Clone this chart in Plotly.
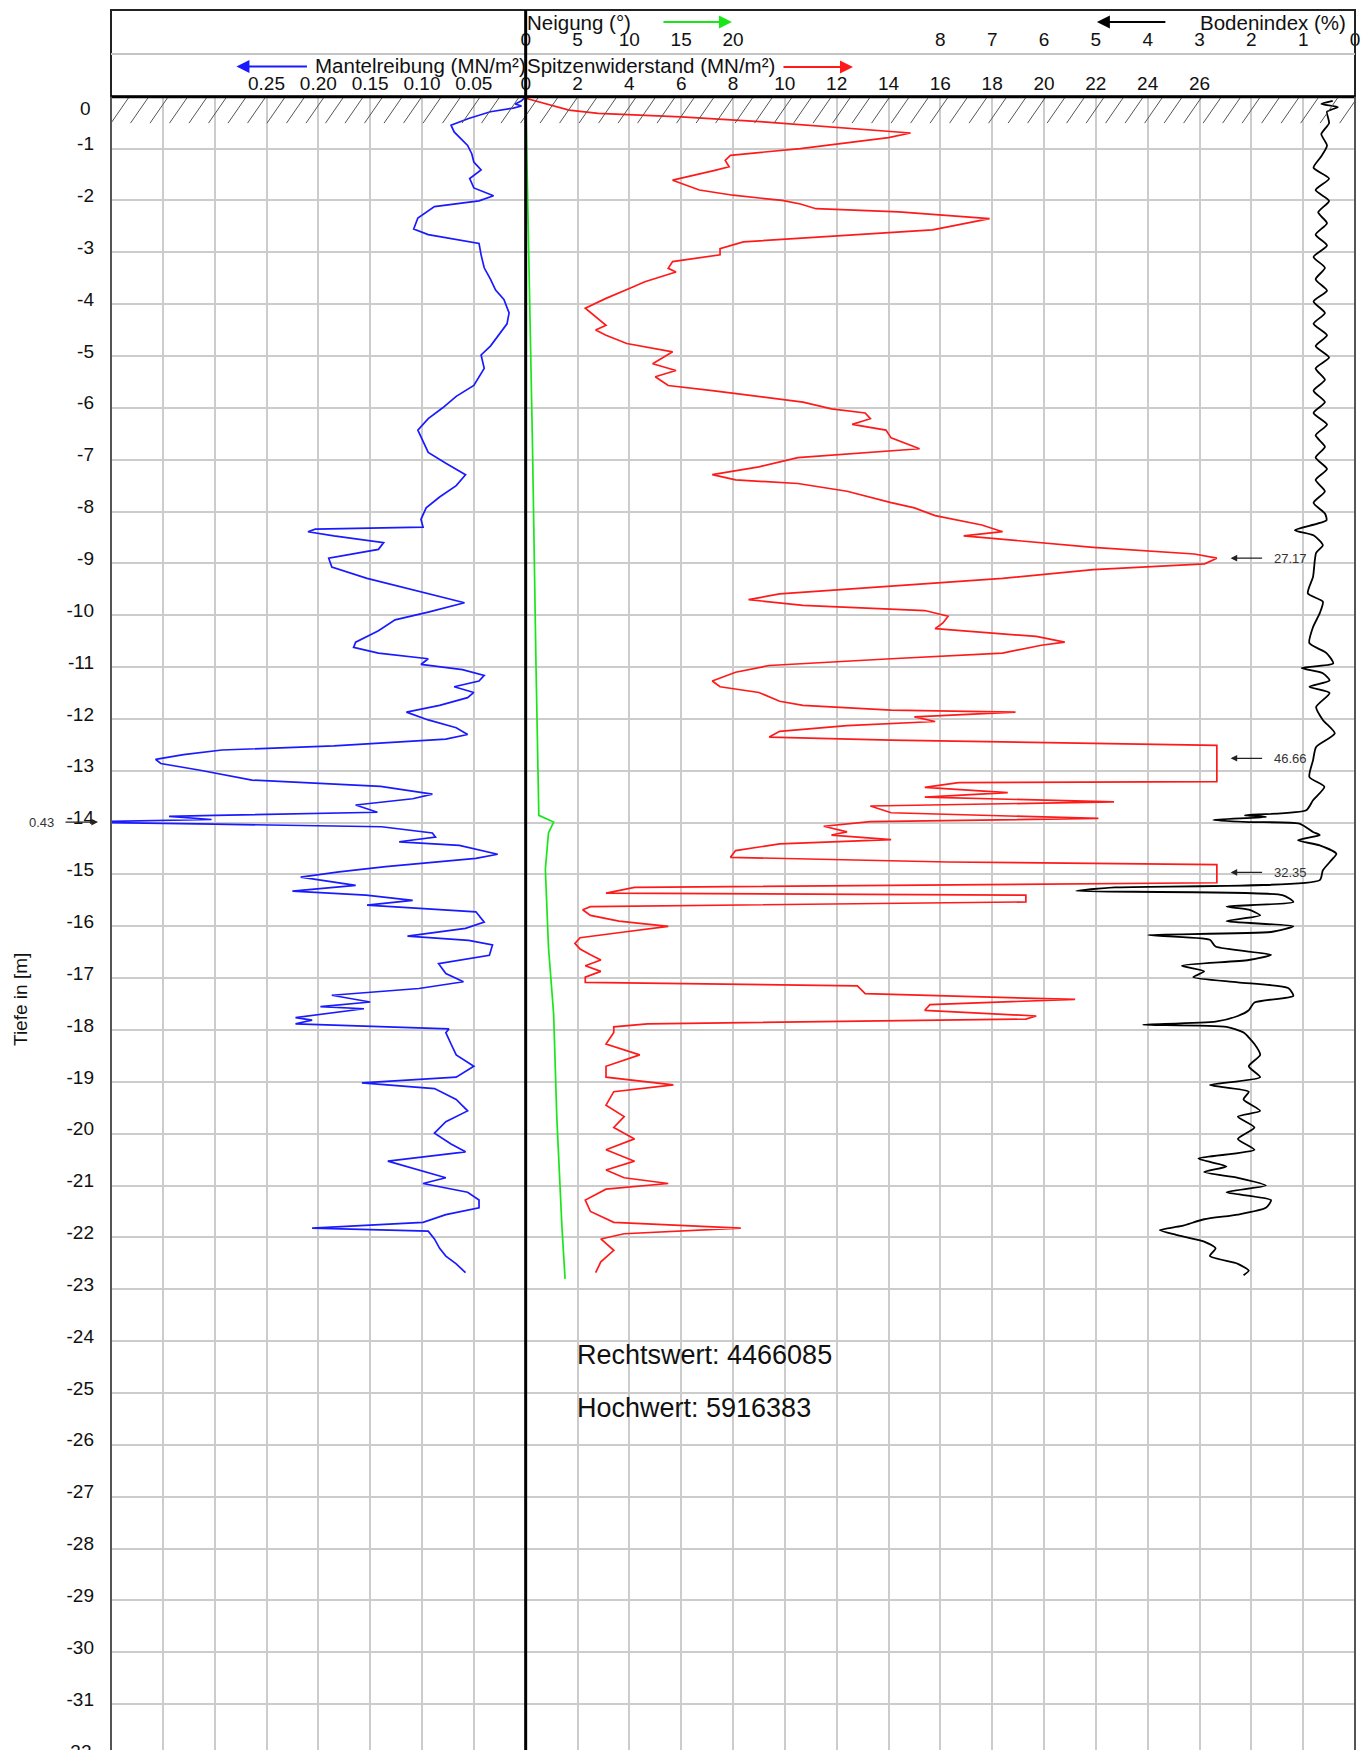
import numpy as np
import plotly.graph_objects as go

FONT = "Liberation Sans, Arial, Helvetica, sans-serif"

# ---------------- data (depth in m below ground, values in axis units) ----------------
MANTEL_DEPTH = [0.00, 0.08, 0.14, 0.18, 0.22, 0.29, 0.42, 0.55, 0.68, 0.94, 1.10, 1.26, 1.41, 1.58, 1.76,
                1.91, 2.01, 2.12, 2.34, 2.55, 2.66, 2.83, 3.05, 3.30, 3.52, 3.73, 3.91, 4.17, 4.38, 4.60,
                4.81, 4.98, 5.24, 5.57, 5.78, 6.00, 6.21, 6.43, 6.64, 6.86, 7.07, 7.29, 7.50, 7.72, 7.93,
                8.15, 8.30, 8.34, 8.39, 8.47, 8.60, 8.73, 8.90, 9.07, 9.29, 9.50, 9.70, 9.76, 9.94, 10.09,
                10.30, 10.52, 10.62, 10.73, 10.84, 10.95, 11.05, 11.16, 11.27, 11.38, 11.49, 11.59, 11.74,
                11.87, 12.02, 12.17, 12.30, 12.39, 12.52, 12.60, 12.69, 12.78, 12.86, 12.99, 13.18, 13.30,
                13.45, 13.54, 13.66, 13.80, 13.86, 13.88, 13.94, 13.99, 14.03, 14.08, 14.20, 14.28, 14.37,
                14.44, 14.61, 14.69, 14.85, 14.95, 15.05, 15.21, 15.32, 15.40, 15.50, 15.59, 15.72, 15.92,
                16.04, 16.19, 16.27, 16.36, 16.56, 16.72, 16.91, 17.07, 17.20, 17.33, 17.46, 17.55, 17.59,
                17.76, 17.81, 17.88, 17.98, 18.05, 18.27, 18.48, 18.70, 18.91, 19.02, 19.13, 19.34, 19.56,
                19.77, 19.99, 20.20, 20.35, 20.53, 20.70, 20.85, 20.96, 21.13, 21.28, 21.43, 21.56, 21.71,
                21.82, 21.88, 22.03, 22.21, 22.36, 22.51, 22.68]
MANTEL_VAL = [0.000, 0.004, 0.010, 0.004, 0.012, 0.034, 0.055, 0.072, 0.069, 0.056, 0.052, 0.050, 0.043, 0.054, 0.050,
              0.031, 0.045, 0.088, 0.104, 0.108, 0.094, 0.045, 0.043, 0.040, 0.034, 0.029, 0.021, 0.016, 0.018, 0.026,
              0.034, 0.043, 0.040, 0.050, 0.067, 0.080, 0.094, 0.104, 0.099, 0.094, 0.077, 0.058, 0.067, 0.083, 0.096,
              0.101, 0.099, 0.203, 0.210, 0.185, 0.137, 0.142, 0.190, 0.187, 0.153, 0.110, 0.072, 0.059, 0.094, 0.126,
              0.142, 0.164, 0.166, 0.142, 0.094, 0.101, 0.061, 0.040, 0.045, 0.069, 0.050, 0.056, 0.083,
              0.115, 0.094, 0.067, 0.056, 0.077, 0.185, 0.293, 0.330, 0.357, 0.352, 0.314, 0.264, 0.140,
              0.090, 0.109, 0.164, 0.143, 0.300, 0.344, 0.303, 0.430, 0.300, 0.139, 0.090, 0.087, 0.122,
              0.064, 0.027, 0.048, 0.135, 0.180, 0.217, 0.164, 0.225, 0.154, 0.109, 0.153, 0.048, 0.040,
              0.058, 0.114, 0.055, 0.032, 0.035, 0.084, 0.077, 0.060, 0.103, 0.187, 0.150, 0.198, 0.156,
              0.222, 0.206, 0.222, 0.074, 0.077, 0.072, 0.067, 0.050, 0.067, 0.158, 0.088, 0.067, 0.056,
              0.077, 0.088, 0.072, 0.058, 0.133, 0.104, 0.077, 0.099, 0.056, 0.045, 0.045, 0.077, 0.099,
              0.206, 0.094, 0.088, 0.083, 0.077, 0.067, 0.058]

SPITZE_DEPTH = [0.03, 0.26, 0.32, 0.39, 0.49, 0.58, 0.70, 0.79, 1.00, 1.13, 1.23, 1.35, 1.42, 1.61, 1.80, 1.90,
                2.00, 2.07, 2.16, 2.22, 2.35, 2.57, 2.70, 2.80, 2.93, 3.05, 3.18, 3.31, 3.38, 3.57, 3.70, 3.89,
                4.08, 4.41, 4.50, 4.60, 4.76, 4.92, 5.15, 5.28, 5.40, 5.57, 5.67, 5.78, 5.89, 6.02, 6.10, 6.21,
                6.32, 6.43, 6.58, 6.79, 6.96, 7.14, 7.29, 7.39, 7.46, 7.61, 7.83, 7.93, 8.08, 8.26, 8.39, 8.47,
                8.54, 8.69, 8.82, 8.90, 9.01, 9.12, 9.29, 9.44, 9.59, 9.70, 9.81, 9.91, 10.02, 10.15, 10.26,
                10.41, 10.52, 10.58, 10.73, 10.84, 10.97, 11.10, 11.27, 11.38, 11.49, 11.66, 11.74, 11.83,
                11.87, 11.96, 12.05, 12.13, 12.24, 12.35, 12.41, 12.51, 13.21, 13.23, 13.32, 13.42, 13.51,
                13.60, 13.68, 13.81, 13.92, 13.98, 14.07, 14.18, 14.24, 14.33, 14.41, 14.54, 14.67, 14.76,
                14.81, 15.16, 15.25, 15.36, 15.40, 15.53, 15.62, 15.68, 15.79, 15.90, 16.00, 16.11, 16.22,
                16.33, 16.44, 16.55, 16.65, 16.76, 16.87, 16.98, 17.08, 17.15, 17.30, 17.41, 17.51, 17.62,
                17.73, 17.79, 17.88, 17.94, 18.05, 18.27, 18.48, 18.70, 18.91, 19.06, 19.19, 19.45, 19.67,
                19.88, 20.10, 20.31, 20.53, 20.70, 20.85, 20.96, 21.07, 21.28, 21.50, 21.71, 21.82, 21.93,
                22.03, 22.25, 22.47, 22.68]
SPITZE_VAL = [0.0, 1.67, 2.8, 6.0, 9.3, 11.8, 14.85, 14.0, 10.6, 7.9, 7.7, 7.85, 7.3, 5.67, 6.7, 8.0,
              9.9, 10.6, 11.2, 14.4, 17.9, 15.7, 11.8, 8.4, 7.5, 7.5, 5.67, 5.5, 5.8, 4.6, 4.0, 3.1,
              2.3, 3.1, 2.7, 3.1, 3.9, 5.67, 4.9, 5.8, 5.0, 5.5, 7.2, 9.0, 10.7, 11.8, 13.1, 13.3,
              12.6, 13.9, 14.1, 15.2, 10.5, 9.0, 7.2, 8.1, 10.5, 12.4, 14.1, 15.0, 15.8, 17.6, 18.4, 16.9,
              18.6, 21.9, 25.8, 26.67, 26.2, 21.9, 18.4, 14.1, 9.8, 8.6, 10.7, 15.4, 16.3, 16.1, 15.8,
              19.7, 20.8, 19.9, 18.4, 14.1, 9.4, 8.1, 7.2, 7.5, 9.0, 9.8, 10.7, 14.1,
              18.9, 15.0, 15.8, 12.4, 9.8, 9.4, 14.1, 26.67, 26.67, 16.7, 15.4, 18.6, 15.4,
              22.7, 13.3, 14.1, 22.1, 13.3, 11.5, 12.4, 11.8, 14.1, 9.8, 8.1, 7.9, 16.3,
              26.67, 26.67, 4.2, 3.1, 19.3, 19.3, 2.5, 2.2, 2.5, 3.6, 5.5, 3.8, 2.1,
              1.9, 2.1, 2.5, 2.9, 2.3, 2.9, 2.3, 2.3, 12.8, 13.1, 21.2, 15.6, 15.4,
              19.7, 19.3, 4.7, 3.4, 3.4, 3.1, 4.4, 3.1, 3.1, 5.7, 3.4, 3.1, 3.8,
              3.4, 4.2, 3.1, 4.2, 3.1, 3.8, 5.5, 3.1, 2.3, 2.5, 3.4, 8.3, 3.8,
              2.9, 3.4, 2.9, 2.7]

NEIGUNG_DEPTH = [0.0, 3.0, 6.75, 11.0, 13.86, 13.99, 14.2, 14.9, 16.4, 17.7, 19.67, 21.8, 22.8]
NEIGUNG_VAL = [0.0, 0.3, 0.66, 1.0, 1.27, 2.7, 2.2, 1.9, 2.2, 2.7, 3.0, 3.5, 3.8]

BODEN_DEPTH = [0.08, 0.14, 0.20, 0.29, 0.51, 0.72, 0.94, 1.15, 1.37, 1.58, 1.80, 2.01, 2.23, 2.44, 2.66,
               2.87, 3.09, 3.30, 3.52, 3.74, 3.95, 4.17, 4.38, 4.60, 4.81, 5.03, 5.24, 5.46, 5.67, 5.89,
               6.10, 6.32, 6.53, 6.75, 6.96, 7.18, 7.39, 7.61, 7.83, 8.04, 8.17, 8.36, 8.46, 8.65, 8.80,
               9.26, 9.58, 9.74, 9.96, 10.23, 10.54, 10.73, 10.93, 11.02, 11.12, 11.26, 11.38, 11.50, 11.77,
               12.02, 12.28, 12.54, 12.80, 13.12, 13.31, 13.57, 13.76, 13.86, 13.89, 13.95, 13.99, 14.02,
               14.18, 14.24, 14.34, 14.44, 14.60, 14.72, 14.92, 15.11, 15.25, 15.32, 15.40, 15.53, 15.62,
               15.68, 15.79, 15.90, 16.00, 16.11, 16.17, 16.26, 16.39, 16.55, 16.65, 16.76, 16.87, 16.98,
               17.08, 17.19, 17.34, 17.47, 17.62, 17.73, 17.84, 17.90, 17.94, 18.05, 18.27, 18.48, 18.70,
               18.91, 19.06, 19.19, 19.34, 19.56, 19.67, 19.88, 20.10, 20.31, 20.48, 20.63, 20.74, 20.85,
               21.00, 21.13, 21.28, 21.43, 21.56, 21.65, 21.78, 21.86, 21.95, 22.08, 22.21, 22.36, 22.51,
               22.64, 22.73]
BODEN_VAL = [0.43, 0.65, 0.33, 0.54, 0.50, 0.65, 0.54, 0.65, 0.80, 0.50, 0.76, 0.50, 0.71, 0.54, 0.76,
             0.54, 0.80, 0.58, 0.76, 0.54, 0.80, 0.58, 0.80, 0.54, 0.76, 0.50, 0.76, 0.58, 0.80, 0.58,
             0.80, 0.54, 0.76, 0.58, 0.76, 0.54, 0.76, 0.58, 0.80, 0.58, 0.55, 1.16, 0.80, 0.62, 0.75,
             0.81, 0.91, 0.62, 0.68, 0.81, 0.88, 0.55, 0.42, 1.03, 0.62, 0.49, 0.88, 0.49, 0.75,
             0.62, 0.39, 0.75, 0.81, 0.88, 0.59, 0.81, 0.94, 2.13, 1.71, 2.74, 2.04, 1.07,
             0.81, 0.68, 1.10, 0.68, 0.36, 0.45, 0.62, 0.68, 4.63, 5.38, 1.40, 1.19, 2.48,
             2.05, 1.83, 2.48, 1.19, 1.62, 3.99, 2.80, 2.69, 1.62, 2.05, 3.34, 2.91, 3.12,
             2.26, 1.29, 1.19, 1.94, 2.05, 2.26, 2.69, 4.09, 2.48, 2.15, 1.94, 1.83, 2.05,
             1.83, 2.80, 2.05, 2.15, 1.83, 2.26, 1.94, 2.26, 1.94, 3.02, 2.48, 2.91, 2.26,
             1.72, 2.48, 1.62, 1.72, 2.26, 2.91, 3.34, 3.77, 3.45, 2.91, 2.69, 2.80, 2.26,
             2.05, 2.15]

# clipped peaks of the Spitzenwiderstand and Mantelreibung (true values)
PEAK_DEPTHS = [8.90, 12.76, 14.96]
PEAK_LABELS = ["27.17", "46.66", "32.35"]
MANTEL_PEAK_DEPTH = 13.99
MANTEL_PEAK_LABEL = "0.43"

# tick labels
SPITZE_TICKS = list(range(-16, 33, 2))
SPITZE_LABELS = [str(v) if 0 <= v <= 26 else "" for v in SPITZE_TICKS]
MANTEL_TICKS = [0.25, 0.20, 0.15, 0.10, 0.05]
MANTEL_LABELS = ["0.25", "0.20", "0.15", "0.10", "0.05"]
NEIGUNG_TICKS = [0, 5, 10, 15, 20]
BODEN_TICKS = [0, 1, 2, 3, 4, 5, 6, 7, 8]
DEPTH_TICKS = list(range(1, 32))
DEPTH_LABELS = ["-%d" % d for d in DEPTH_TICKS]

COORD_TEXT = ["Rechtswert: 4466085", "Hochwert: 5916383"]
COORD_DEPTH = [24.27, 25.29]

# ---------------- layout geometry ----------------
W, H = 1363, 1750
ML, MR = 111, 8
HEADER_TOP = 10.0       # px from top
HEADER_MID = 54.0
PLOT_TOP = 96.7
PX_PER_M = 51.85
DEPTH_MAX = (H - PLOT_TOP) / PX_PER_M


def py(px):
    """pixel row (from top) -> paper y"""
    return 1 - px / H


def pxp(px):
    """pixel column -> paper x"""
    return (px - ML) / (W - ML - MR)


fig = go.Figure()

neg = lambda a: [-v for v in a]

fig.add_trace(go.Scatter(x=MANTEL_VAL, y=neg(MANTEL_DEPTH), xaxis="x2", yaxis="y", mode="lines",
                         line=dict(color="#1a1aff", width=1.7), hoverinfo="skip", showlegend=False))
fig.add_trace(go.Scatter(x=SPITZE_VAL, y=neg(SPITZE_DEPTH), xaxis="x", yaxis="y", mode="lines",
                         line=dict(color="#ff1a1a", width=1.7), hoverinfo="skip", showlegend=False))
fig.add_trace(go.Scatter(x=NEIGUNG_VAL, y=neg(NEIGUNG_DEPTH), xaxis="x3", yaxis="y", mode="lines",
                         line=dict(color="#19e619", width=1.7), hoverinfo="skip", showlegend=False))
fig.add_trace(go.Scatter(x=BODEN_VAL, y=neg(BODEN_DEPTH), xaxis="x4", yaxis="y", mode="lines",
                         line=dict(color="#000000", width=1.8, shape="spline", smoothing=0.6),
                         hoverinfo="skip", showlegend=False))

tickfont = dict(family=FONT, size=19, color="#111")

fig.update_layout(
    width=W, height=H,
    margin=dict(l=ML, r=MR, t=0, b=0, pad=0),
    paper_bgcolor="white", plot_bgcolor="white",
    showlegend=False,
    font=dict(family=FONT, size=19, color="#111"),
    xaxis=dict(range=[-16, 32], side="top", tickmode="array", tickvals=SPITZE_TICKS, ticktext=SPITZE_LABELS,
               showgrid=True, gridcolor="#cccccc", gridwidth=1.5, zeroline=False, showline=False,
               ticks="", tickfont=tickfont, ticklabelstandoff=2, fixedrange=True),
    xaxis2=dict(range=[0.40, -0.80], overlaying="x", anchor="y", side="top", tickmode="array",
                tickvals=MANTEL_TICKS, ticktext=MANTEL_LABELS, showgrid=False, zeroline=False,
                showline=False, ticks="", tickfont=tickfont, ticklabelstandoff=2),
    xaxis3=dict(range=[-40, 80], overlaying="x", anchor="free", position=py(HEADER_MID), side="top",
                tickmode="array", tickvals=NEIGUNG_TICKS, showgrid=False, zeroline=False, showline=False,
                ticks="", tickfont=tickfont, ticklabelstandoff=4),
    xaxis4=dict(range=[24, 0], overlaying="x", anchor="free", position=py(HEADER_MID), side="top",
                tickmode="array", tickvals=BODEN_TICKS, showgrid=False, zeroline=False, showline=False,
                ticks="", tickfont=tickfont, ticklabelstandoff=4),
    yaxis=dict(domain=[0, py(PLOT_TOP)], range=[-DEPTH_MAX, 0], tickmode="array",
               tickvals=neg(DEPTH_TICKS), ticktext=DEPTH_LABELS, showgrid=True, gridcolor="#cccccc",
               gridwidth=1.5, zeroline=False, showline=False, ticks="", tickfont=tickfont,
               ticklabelstandoff=16, ticklabelshift=-5),
)

shapes = []
# hatched ground band below the header
hatch_h = 0.51
step = 0.7525          # spacing in Spitzenwiderstand units
slant = 0.706
path = ""
x0 = -16 - step
while x0 < 32:
    path += "M %.3f,%.3f L %.3f,%.3f " % (x0, -hatch_h, x0 + slant, 0)
    x0 += step
shapes.append(dict(type="path", path=path, xref="x", yref="y", line=dict(color="#555", width=1), layer="above"))
# header frame
shapes.append(dict(type="rect", xref="paper", yref="paper", x0=0, x1=1, y0=py(PLOT_TOP), y1=py(HEADER_TOP),
                   line=dict(color="#222", width=2), fillcolor="rgba(0,0,0,0)", layer="above"))
shapes.append(dict(type="line", xref="paper", yref="paper", x0=0, x1=1, y0=py(HEADER_MID), y1=py(HEADER_MID),
                   line=dict(color="#c4c4c4", width=2), layer="above"))
shapes.append(dict(type="line", xref="paper", yref="paper", x0=0, x1=1, y0=py(PLOT_TOP), y1=py(PLOT_TOP),
                   line=dict(color="#000", width=3), layer="above"))
# plot borders
shapes.append(dict(type="line", xref="paper", yref="paper", x0=0, x1=0, y0=0, y1=py(PLOT_TOP),
                   line=dict(color="#555", width=2), layer="above"))
shapes.append(dict(type="line", xref="paper", yref="paper", x0=1, x1=1, y0=0, y1=py(PLOT_TOP),
                   line=dict(color="#555", width=2), layer="above"))
# zero line through header and plot
shapes.append(dict(type="line", xref="x", yref="paper", x0=0, x1=0, y0=0, y1=py(HEADER_TOP),
                   line=dict(color="#000", width=3), layer="above"))
fig.update_layout(shapes=shapes)

ann = []
tf = dict(family=FONT, size=20.5, color="#111")
ann.append(dict(text="Neigung (°)", xref="x", x=0, xanchor="left", yref="paper", y=py(23), yanchor="middle",
                showarrow=False, font=tf, xshift=-1))
ann.append(dict(text="Bodenindex (%)", xref="x4", x=0.13, xanchor="right", yref="paper", y=py(23),
                yanchor="middle", showarrow=False, font=tf))
ann.append(dict(text="Mantelreibung (MN/m²)", xref="x", x=0, xanchor="right", yref="paper", y=py(66),
                yanchor="middle", showarrow=False, font=tf, xshift=2))
ann.append(dict(text="Spitzenwiderstand (MN/m²)", xref="x", x=0, xanchor="left", yref="paper", y=py(66),
                yanchor="middle", showarrow=False, font=tf, xshift=-1))
# direction arrows
for xr, xv, axp, yy, col in [("x3", 19.9, -70, 22, "#19e619"), ("x4", 4.98, 70, 22, "#000"),
                             ("x2", 0.279, 72, 66.5, "#1a1aff"), ("x", 12.63, -71, 67, "#ff1a1a")]:
    ann.append(dict(text="", xref=xr, x=xv, yref="paper", y=py(yy), ax=axp, ay=0, showarrow=True,
                    arrowhead=2, arrowsize=1.3, arrowwidth=2, arrowcolor=col))
# depth label 0 and -32
tfd = dict(family=FONT, size=19, color="#111")
ann.append(dict(text="0", xref="paper", x=pxp(93), xanchor="right", yref="y", y=-0.22, yanchor="middle",
                showarrow=False, font=tfd))
ann.append(dict(text="-32", xref="paper", x=pxp(93), xanchor="right", yref="paper", y=py(1751), yanchor="middle",
                showarrow=False, font=tfd))
ann.append(dict(text="Tiefe in [m]", xref="paper", x=pxp(20), xanchor="center", yref="paper", y=py(1000),
                yanchor="middle", textangle=-90, showarrow=False, font=tfd))
# clipped peak markers
small = dict(family=FONT, size=13, color="#333")
for d, lab in zip(PEAK_DEPTHS, PEAK_LABELS):
    ann.append(dict(text="", xref="x", x=27.2, yref="y", y=-d, ax=33, ay=0, showarrow=True,
                    arrowhead=2, arrowsize=1.1, arrowwidth=1.2, arrowcolor="#222"))
    ann.append(dict(text=lab, xref="x", x=28.8, xanchor="left", yref="y", y=-d, yanchor="middle",
                    showarrow=False, font=small))
ann.append(dict(text="", xref="paper", x=pxp(98), yref="y", y=-MANTEL_PEAK_DEPTH, ax=-34, ay=0, showarrow=True,
                arrowhead=2, arrowsize=1.1, arrowwidth=1.2, arrowcolor="#222"))
ann.append(dict(text=MANTEL_PEAK_LABEL, xref="paper", x=pxp(41), xanchor="center", yref="y",
                y=-MANTEL_PEAK_DEPTH, yanchor="middle", showarrow=False, font=small))
for t, d in zip(COORD_TEXT, COORD_DEPTH):
    ann.append(dict(text=t, xref="x", x=1.9, xanchor="left", yref="y", y=-d, yanchor="middle",
                    showarrow=False, font=dict(family=FONT, size=27, color="#111")))
fig.update_layout(annotations=ann)

fig.write_html("out.html", config={"displayModeBar": False},
               post_script="document.body.style.margin='0';document.body.style.overflow='hidden';")
